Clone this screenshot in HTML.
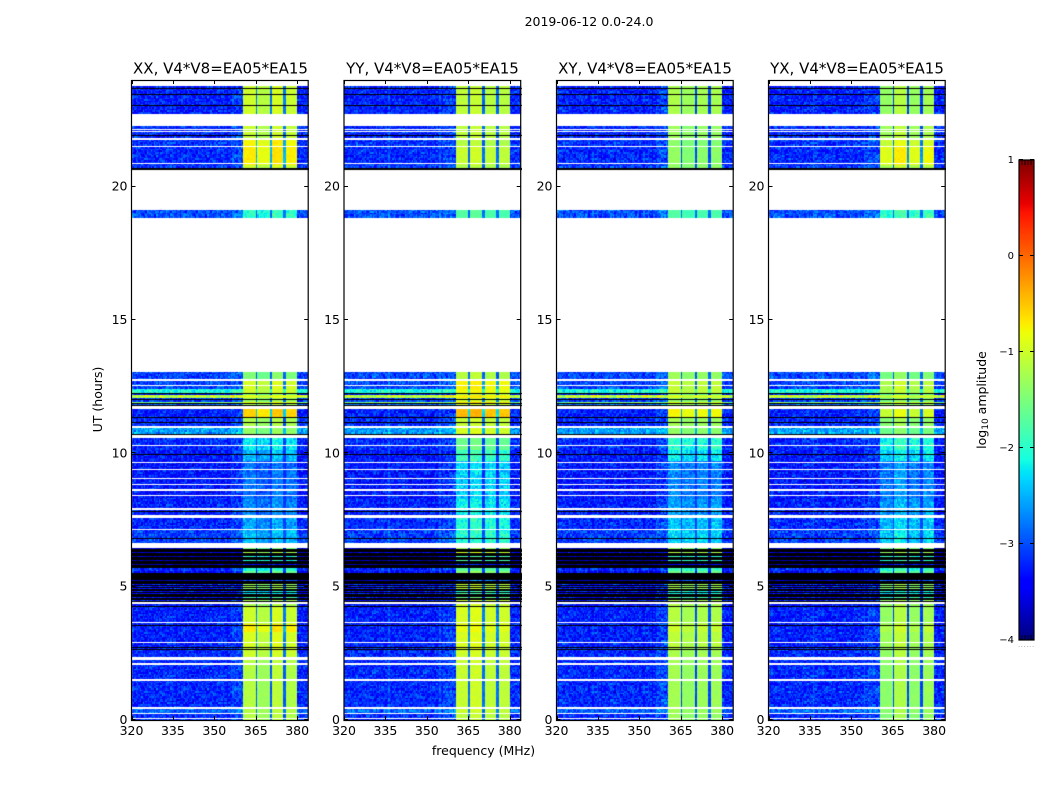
<!DOCTYPE html>
<html>
<head>
<meta charset="utf-8">
<title>2019-06-12 0.0-24.0</title>
<style>
html,body{margin:0;padding:0;background:#fff;width:1050px;height:800px;overflow:hidden}
#stage{position:relative;width:1050px;height:800px}
canvas{position:absolute;display:block}
svg{position:absolute;left:0;top:0}
text{font-family:"DejaVu Sans","Liberation Sans",sans-serif;fill:#000}
</style>
</head>
<body>
<div id="stage">
<svg id="overlay" width="1050" height="800">
  <text x="589" y="26" font-size="12.5" text-anchor="middle">2019-06-12 0.0-24.0</text>
  <text x="220.5" y="73.5" font-size="15" text-anchor="middle">XX, V4*V8=EA05*EA15</text>
  <text x="432.5" y="73.5" font-size="15" text-anchor="middle">YY, V4*V8=EA05*EA15</text>
  <text x="645" y="73.5" font-size="15" text-anchor="middle">XY, V4*V8=EA05*EA15</text>
  <text x="857" y="73.5" font-size="15" text-anchor="middle">YX, V4*V8=EA05*EA15</text>
  <text x="483.5" y="755" font-size="12.5" text-anchor="middle">frequency (MHz)</text>
  <text transform="translate(102,399.5) rotate(-90)" font-size="12.5" text-anchor="middle">UT (hours)</text>
  <text transform="translate(986,400) rotate(-90)" font-size="12.5" text-anchor="middle">log<tspan font-size="9" dy="2">10</tspan><tspan dy="-2"> amplitude</tspan></text>
  <text x="1026.5" y="647" font-size="6" letter-spacing="0.9" fill="#777" text-anchor="middle" style="fill:#777">......</text>
</svg>
</div>
<script>
/* ---------- axis tick values ---------- */
const freqTicks = [320, 335, 350, 365, 380];
const hourTicks = [0, 5, 10, 15, 20];
const colorTicks = [1, 0, -1, -2, -3, -4];
const colorTickLabels = ["1", "0", "\u22121", "\u22122", "\u22123", "\u22124"];

/* ---------- time zones (top hour of each, descending) ---------- */
const zoneTop = [23.73,22.74,21.84,21.5,20.84,19.11,13.05,12.71,12.41,12.26,12.19,12.04,11.96,11.88,11.68,11.35,10.95,10.58,10.13,9.69,8.25,7.58,7.11,6.46,6.3,6.15,5.85,5.78,5.55,5.4,5.25,5.1,4.86,4.7,4.52,4.28,3.6,3.3,2.7,2.25,0.49,0.26];
/* log10 amplitude of the off-band background in each zone */
const backgroundLevel = [-3.25,-3.2,-3.15,-3.2,-3.1,-3,-3.05,-3.05,-2.1,-3.3,-1.1,-3.1,-1.5,-2.9,-3.25,-3.2,-2.6,-3.2,-3.3,-3.3,-3.25,-3.2,-3.1,-3.7,-3.6,-3.8,-3.9,-3.2,-3.4,-3.8,-3.8,-3.3,-3.4,-3.4,-3.3,-3.25,-3.25,-3.25,-3.2,-3.2,-2.9,-3.2];
/* log10 amplitude inside the bright 360-380 MHz block, per polarisation */
const blockXX = [-1,-1.05,-0.75,-0.7,-1,-1.95,-1.45,-0.95,-1,-1.5,-0.9,-1.3,-0.8,-1.2,-0.55,-1.2,-1.35,-2.2,-2.45,-2.8,-2.7,-2.55,-2.45,-1.5,-1.2,-2,-3.4,-2,-1.6,-1.5,-3,-1.3,-2.2,-1.8,-1.2,-1,-0.7,-0.95,-1,-1.15,-1.15,-1.15];
const blockYY = [-1.1,-1.1,-1.15,-1.05,-1.2,-1.75,-1.15,-0.75,-0.8,-1.2,-0.7,-1,-0.6,-1,-0.45,-1.05,-0.95,-1.6,-1.9,-2.35,-2.2,-2.05,-2,-1.3,-1,-1.8,-3.2,-1.7,-1.4,-1.3,-2.8,-1.1,-1.9,-1.6,-1,-0.95,-0.85,-0.95,-1,-1.05,-1.05,-1.1];
const blockXY = [-1.25,-1.35,-1.45,-1.4,-1.4,-1.8,-1.35,-1.1,-1.1,-1.6,-1,-1.4,-0.9,-1.3,-0.8,-1.3,-1.4,-2,-2.25,-2.75,-2.6,-2.45,-2.35,-1.4,-1.2,-2,-3.4,-1.9,-1.6,-1.5,-3,-1.3,-2.1,-1.8,-1.2,-1.2,-1.05,-1.15,-1.25,-1.3,-1.3,-1.35];
const blockYX = [-1.3,-1.25,-1,-0.85,-1.2,-1.95,-1.5,-1.15,-1.2,-1.7,-1.1,-1.5,-1,-1.4,-1,-1.4,-1.55,-2.05,-2.3,-2.75,-2.6,-2.45,-2.35,-1.5,-1.3,-2,-3.4,-2,-1.7,-1.6,-3,-1.4,-2.2,-1.9,-1.3,-1.3,-1.15,-1.25,-1.3,-1.35,-1.35,-1.4];
/* the four spectral windows of the block (MHz) and their offsets per polarisation */
const windowStart = [360.5, 365.6, 370.8, 375.9];
const windowEnd = [364.8, 369.9, 375, 380];
const windowShiftXX = [0, -0.15, 0.05, -0.03];
const windowShiftYY = [0, 0.05, -0.05, -0.05];
const windowShiftXY = [0.05, -0.05, 0, 0];
const windowShiftYX = [-0.05, 0.15, -0.05, 0.05];
/* flagged rows left blank (hours) */
const gapFrom = [22.28,22.13,22.04,21.75,21.5,20.84,19.11,13.05,12.71,12.51,11.68,10.95,10.58,10.29,9.66,9.38,9.04,8.81,8.59,8.39,7.89,7.58,7.11,6.46,5.29,4.52,4.35,3.64,2.87,2.25,2.06,1.46,0.43,0.21,0.05];
const gapTo = [22.74,22.18,22.09,21.84,21.54,20.89,20.68,18.83,12.79,12.56,11.78,11.01,10.69,10.33,9.69,9.43,9.09,8.85,8.68,8.44,7.95,7.69,7.16,6.64,5.34,4.58,4.41,3.69,2.94,2.36,2.12,1.54,0.49,0.26,0.09];
/* rows that render black (hours) */
const blackRows = [23.7,23.49,23.08,21.93,20.7,20.66,12.26,12.04,11.88,11.8,11.35,11.18,10.73,9.96,7.85,6.83,6.43,6.41,6.38,6.34,6.28,6.24,6.2,6.12,6.08,6.03,5.98,5.95,5.91,5.87,5.83,5.78,5.74,5.53,5.48,5.44,5.4,5.36,5.31,5.27,5.22,5.19,5.15,5.05,4.99,4.92,4.86,4.8,4.74,4.7,4.65,4.59,4.54,4.46,4.28,3.58,2.73,2.66];
/* pixel-scale speckle, in log10 amplitude */
const speckle = [0.2,-0.3,0.05,0.32,-0.12,-0.25,0.15,0.28,-0.34,0.02,0.18,-0.2,0.36,-0.08,-0.28,0.1,0.24,-0.16,-0.02,0.3,-0.36,0.12,0.06,-0.22,0.26,-0.1,0.34,-0.3,0.08,-0.18,0.22,-0.04,-0.26,0.16,0.3,-0.14,-0.06];

/* ---------- layout ---------- */
const panelBlocks = [blockXX, blockYY, blockXY, blockYX];
const panelShifts = [windowShiftXX, windowShiftYY, windowShiftXY, windowShiftYX];
const panelKeys = ["xx", "yy", "xy", "yx"];
const panelLeft = [131.5, 344, 556.5, 768.5];
const panelWidth = 176.7, plotTop = 80, plotBottom = 720;
const freqMin = 320, freqMax = 384, hourMin = 0, hourMax = 24;
const colorMin = -4, colorMax = 1, barLeft = 1019, barRight = 1034, barTop = 160, barBottom = 640;
const freqStep = 0.5, hourStep = 0.06;
const svgNS = "http://www.w3.org/2000/svg";
const overlay = document.getElementById("overlay");
const stage = document.getElementById("stage");

function xScale(p, f) { return panelLeft[p] + (f - freqMin) / (freqMax - freqMin) * panelWidth; }
function yScale(h) { return plotBottom - (h - hourMin) / (hourMax - hourMin) * (plotBottom - plotTop); }
function colorY(v) { return barBottom - (v - colorMin) / (colorMax - colorMin) * (barBottom - barTop); }
function ramp(v, pts) {
  for (let i = 1; i < pts.length; i++) {
    if (v <= pts[i][0]) return pts[i-1][1] + (pts[i][1] - pts[i-1][1]) * (v - pts[i-1][0]) / (pts[i][0] - pts[i-1][0]);
  }
  return pts[pts.length-1][1];
}
function jet(level) {
  const t = Math.max(0, Math.min(1, (level - colorMin) / (colorMax - colorMin)));
  const r = ramp(t, [[0,0],[0.35,0],[0.66,1],[0.89,1],[1,0.5]]);
  const g = ramp(t, [[0,0],[0.125,0],[0.375,1],[0.64,1],[0.91,0],[1,0]]);
  const b = ramp(t, [[0,0.5],[0.11,1],[0.34,1],[0.65,0],[1,0]]);
  return "rgb(" + Math.round(r*255) + "," + Math.round(g*255) + "," + Math.round(b*255) + ")";
}
function zoneAt(h) {
  let z = -1;
  for (let i = 0; i < zoneTop.length; i++) { if (zoneTop[i] >= h) z = i; }
  return z;
}
function cellLevel(p, z, f, c, r) {
  const bg = backgroundLevel[z];
  const block = panelBlocks[p][z];
  const n = speckle.length;
  const grain = (speckle[(c * c * 3 + r * 5 + c * r + p * 11) % n] + speckle[(c * 7 + r * r * 2 + p * 3) % n]) * 0.7;
  if (f < windowStart[0] || f >= windowEnd[3]) {
    const shoulder = (f >= 356 && f < windowStart[0]) ? 0.15 : 0;
    return bg + shoulder + grain;
  }
  for (let w = 0; w < windowStart.length; w++) {
    if (f >= windowStart[w] && f < windowEnd[w]) {
      const k = block < -1.8 ? 0.7 : 0.18;
      return block + panelShifts[p][w] + grain * k;
    }
  }
  return Math.max(bg + 0.15, block - 1.8) + grain * 0.3;
}

/* ---------- heatmap panels ---------- */
for (let p = 0; p < 4; p++) {
  const cv = document.createElement("canvas");
  
  
  const left = Math.floor(panelLeft[p]);
  cv.width = Math.ceil(panelWidth) + 1;
  cv.height = plotBottom - plotTop;
  cv.style.left = left + "px";
  cv.style.top = plotTop + "px";
  stage.insertBefore(cv, overlay);
  const ctx = cv.getContext("2d");
  ctx.fillStyle = "#fff";
  ctx.fillRect(0, 0, cv.width, cv.height);
  const nRows = Math.round((hourMax - hourMin) / hourStep);
  const nCols = Math.round((freqMax - freqMin) / freqStep);
  for (let r = 0; r < nRows; r++) {
    const h = hourMin + r * hourStep;
    const z = zoneAt(h + hourStep / 2);
    if (z < 0) continue;
    const y0 = Math.round(yScale(h + hourStep)) - plotTop;
    const y1 = Math.round(yScale(h)) - plotTop;
    for (let c = 0; c < nCols; c++) {
      const f = freqMin + c * freqStep;
      const x0 = Math.round(xScale(p, f)) - left;
      const x1 = Math.round(xScale(p, f + freqStep)) - left;
      ctx.fillStyle = jet(cellLevel(p, z, f + freqStep / 2, c, r));
      ctx.fillRect(x0, y0, Math.max(1, x1 - x0), Math.max(1, y1 - y0));
    }
  }
  ctx.fillStyle = "#fff";
  for (let g = 0; g < gapFrom.length; g++) {
    const y0 = Math.round(yScale(gapTo[g])) - plotTop;
    const y1 = Math.round(yScale(gapFrom[g])) - plotTop;
    ctx.fillRect(0, y0, cv.width, Math.max(1, y1 - y0));
  }
  ctx.fillStyle = "#000";
  for (let b = 0; b < blackRows.length; b++) {
    ctx.fillRect(0, Math.round(yScale(blackRows[b])) - plotTop, cv.width, 1);
  }

  /* frame */
  const frame = document.createElementNS(svgNS, "rect");
  
  
  frame.setAttribute("x", panelLeft[p]);
  frame.setAttribute("y", plotTop + 0.5);
  frame.setAttribute("width", panelWidth);
  frame.setAttribute("height", plotBottom - plotTop);
  frame.setAttribute("fill", "none");
  frame.setAttribute("stroke", "#000");
  frame.setAttribute("stroke-width", "1.2");
  overlay.appendChild(frame);

  /* x ticks and labels */
  freqTicks.forEach(function (f) {
    const x = Math.round(xScale(p, f)) + 0.5;
    const tb = document.createElementNS(svgNS, "path");
    
    
    tb.setAttribute("d", "M" + x + " " + plotBottom + "v-4M" + x + " " + plotTop + "v4");
    tb.setAttribute("stroke", "#000");
    tb.setAttribute("stroke-width", "1");
    overlay.appendChild(tb);
    const lb = document.createElementNS(svgNS, "text");
    
    
    lb.setAttribute("x", xScale(p, f));
    lb.setAttribute("y", 735);
    lb.setAttribute("font-size", "12.5");
    lb.setAttribute("text-anchor", "middle");
    lb.textContent = String(f);
    overlay.appendChild(lb);
  });

  /* y ticks and labels */
  hourTicks.forEach(function (h) {
    const y = Math.round(yScale(h)) - 0.5;
    const xl = panelLeft[p], xr = panelLeft[p] + panelWidth;
    const tk = document.createElementNS(svgNS, "path");
    
    
    tk.setAttribute("d", "M" + xl + " " + y + "h4M" + xr + " " + y + "h-4");
    tk.setAttribute("stroke", "#000");
    tk.setAttribute("stroke-width", "1");
    overlay.appendChild(tk);
    const lb = document.createElementNS(svgNS, "text");
    
    
    lb.setAttribute("x", xl - 4);
    lb.setAttribute("y", yScale(h) + 4);
    lb.setAttribute("font-size", "12.5");
    lb.setAttribute("text-anchor", "end");
    lb.textContent = String(h);
    overlay.appendChild(lb);
  });
}

/* ---------- colorbar ---------- */
const bar = document.createElement("canvas");


bar.width = barRight - barLeft;
bar.height = barBottom - barTop;
bar.style.left = barLeft + "px";
bar.style.top = barTop + "px";
stage.insertBefore(bar, overlay);
const bctx = bar.getContext("2d");
for (let i = 0; i < bar.height; i++) {
  const v = colorMax - (i + 0.5) / bar.height * (colorMax - colorMin);
  bctx.fillStyle = jet(v);
  bctx.fillRect(0, i, bar.width, 1);
}
const barFrame = document.createElementNS(svgNS, "rect");


barFrame.setAttribute("x", barLeft);
barFrame.setAttribute("y", barTop);
barFrame.setAttribute("width", barRight - barLeft);
barFrame.setAttribute("height", barBottom - barTop);
barFrame.setAttribute("fill", "none");
barFrame.setAttribute("stroke", "#000");
barFrame.setAttribute("stroke-width", "1.2");
overlay.appendChild(barFrame);
for (let m = 1; m < 5; m++) {
  const x = barLeft + m * (barRight - barLeft) / 5;
  const minor = document.createElementNS(svgNS, "path");
  
  
  minor.setAttribute("d", "M" + x + " " + barTop + "v5M" + x + " " + barBottom + "v-5");
  minor.setAttribute("stroke", "#000");
  minor.setAttribute("stroke-width", "0.8");
  overlay.appendChild(minor);
}
colorTicks.forEach(function (v, i) {
  const y = Math.round(colorY(v)) - 0.5;
  const tk = document.createElementNS(svgNS, "path");
  
  
  tk.setAttribute("d", "M" + barLeft + " " + y + "h4M" + barRight + " " + y + "h-4");
  tk.setAttribute("stroke", "#000");
  tk.setAttribute("stroke-width", "1");
  overlay.appendChild(tk);
  const lb = document.createElementNS(svgNS, "text");
  
  
  lb.setAttribute("x", 1014);
  lb.setAttribute("y", colorY(v) + 3);
  lb.setAttribute("font-size", "10");
  lb.setAttribute("text-anchor", "end");
  lb.textContent = colorTickLabels[i];
  overlay.appendChild(lb);
});
</script>
</body>
</html>
